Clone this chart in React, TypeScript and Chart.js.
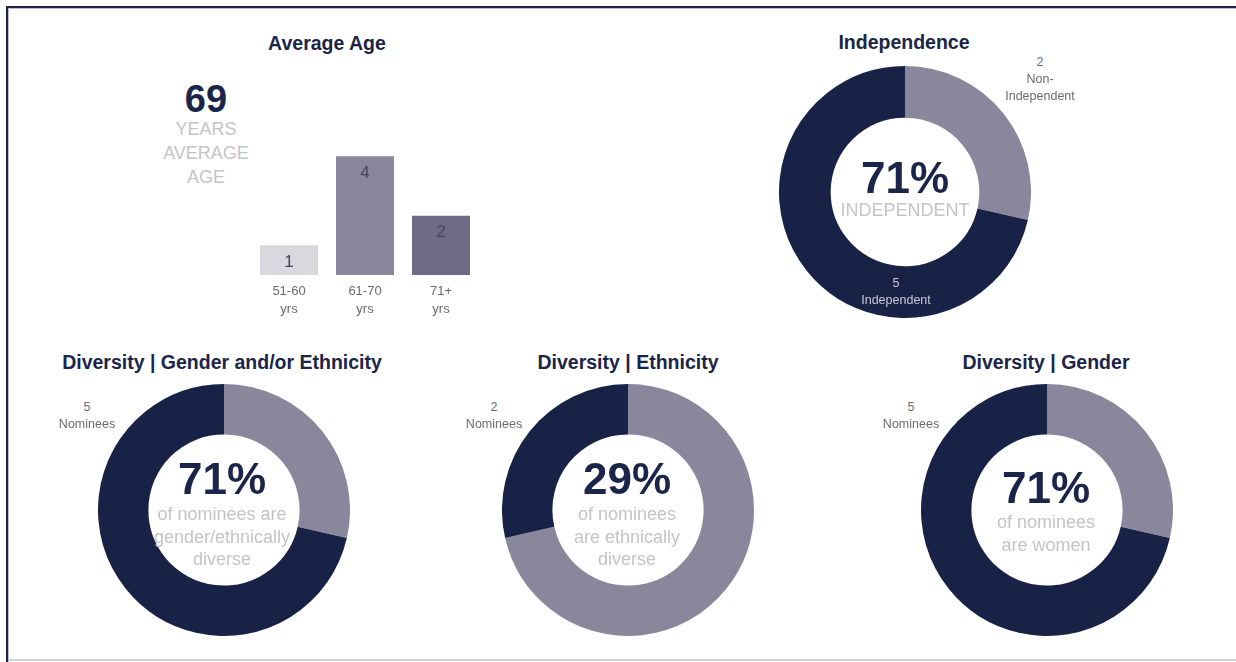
import React, { useEffect, useRef } from "react";
import { Chart, registerables } from "chart.js";

Chart.register(...registerables);

// ---------- data ----------
const ageCategories = ["51-60", "61-70", "71+"];
const ageUnit = "yrs";
const ageCounts = [1, 4, 2];
const averageAge = 69;

const independenceLabels = ["Non-Independent", "Independent"];
const independenceCounts = [2, 5];

const genderEthnicityLabels = ["Not diverse", "Gender/ethnically diverse"];
const genderEthnicityCounts = [2, 5];

const ethnicityLabels = ["Not ethnically diverse", "Ethnically diverse"];
const ethnicityCounts = [5, 2];

const genderLabels = ["Men", "Women"];
const genderCounts = [2, 5];

// ---------- styles ----------
const FONT = '"Liberation Sans", Arial, Helvetica, sans-serif';
const NAVY = "#172246";
const GRAY = "#8a879d";
const TITLE = "#1b2449";
const LIGHT_TEXT = "#c4c4c8";
const SMALL_TEXT = "#6a6a72";
const BAR_COLORS = ["#d9d8df", "#8a879d", "#6f6b86"];

const pct = (part: number, arr: number[]) =>
  Math.round((part / arr.reduce((a, b) => a + b, 0)) * 100);

function Txt(props: {
  x: number;
  y: number;
  size: number;
  color: string;
  bold?: boolean;
  children: React.ReactNode;
}) {
  return (
    <div
      style={{
        position: "absolute",
        left: props.x,
        top: props.y,
        transform: "translate(-50%, -50%)",
        fontFamily: FONT,
        fontSize: props.size,
        fontWeight: props.bold ? 700 : 400,
        color: props.color,
        whiteSpace: "nowrap",
        lineHeight: 1,
        textAlign: "center",
      }}
    >
      {props.children}
    </div>
  );
}

const barLabelPlugin = {
  id: "barLabels",
  afterDatasetsDraw(chart: any) {
    const ctx = chart.ctx;
    const meta = chart.getDatasetMeta(0);
    const area = chart.chartArea;
    ctx.save();
    ctx.textAlign = "center";
    ctx.textBaseline = "middle";
    meta.data.forEach((bar: any, i: number) => {
      ctx.font = `17px ${FONT}`;
      ctx.fillStyle = "#44465f";
      ctx.fillText(String(ageCounts[i]), bar.x, bar.y + 17);
      ctx.font = `13px ${FONT}`;
      ctx.fillStyle = SMALL_TEXT;
      ctx.fillText(ageCategories[i], bar.x, area.bottom + 16);
      ctx.fillText(ageUnit, bar.x, area.bottom + 34);
    });
    ctx.restore();
  },
};

function AgeBars() {
  const ref = useRef<HTMLCanvasElement>(null);
  useEffect(() => {
    const chart = new Chart(ref.current!, {
      type: "bar",
      data: {
        labels: ageCategories,
        datasets: [
          {
            data: ageCounts,
            backgroundColor: BAR_COLORS,
            borderWidth: 0,
            barPercentage: 0.763,
            categoryPercentage: 1,
          },
        ],
      },
      options: {
        animation: false,
        responsive: false,
        maintainAspectRatio: false,
        layout: { padding: { top: 0, bottom: 52, left: 0, right: 0 } },
        plugins: { legend: { display: false }, tooltip: { enabled: false } },
        scales: {
          x: { display: false },
          y: { display: false, min: 0, max: 6 },
        },
      },
      plugins: [barLabelPlugin],
    } as any);
    return () => chart.destroy();
  }, []);
  return (
    <canvas
      ref={ref}
      width={228}
      height={230}
      style={{ position: "absolute", left: 251, top: 97, width: 228, height: 230 }}
    />
  );
}

function Donut(props: {
  labels: string[];
  counts: number[];
  colors: string[];
  cx: number;
  cy: number;
  r: number;
  cutout: string;
}) {
  const ref = useRef<HTMLCanvasElement>(null);
  useEffect(() => {
    const chart = new Chart(ref.current!, {
      type: "doughnut",
      data: {
        labels: props.labels,
        datasets: [
          {
            data: props.counts,
            backgroundColor: props.colors,
            borderWidth: 0,
            hoverOffset: 0,
          },
        ],
      },
      options: {
        animation: false,
        responsive: false,
        maintainAspectRatio: false,
        cutout: props.cutout,
        layout: { padding: 0 },
        plugins: { legend: { display: false }, tooltip: { enabled: false } },
      },
    } as any);
    return () => chart.destroy();
  }, []);
  const size = props.r * 2;
  return (
    <canvas
      ref={ref}
      width={size}
      height={size}
      style={{
        position: "absolute",
        left: props.cx - props.r,
        top: props.cy - props.r,
        width: size,
        height: size,
      }}
    />
  );
}

export default function App() {
  return (
    <div
      style={{
        position: "fixed",
        left: 0,
        top: 0,
        width: 1236,
        height: 662,
        background: "#ffffff",
        overflow: "hidden",
      }}
    >
      {/* frame */}
      <div style={{ position: "absolute", left: 6, top: 6, width: 1230, height: 2, background: "#1d2448" }} />
      <div style={{ position: "absolute", left: 8, top: 8, width: 1228, height: 1, background: "#b9bbd0" }} />
      <div style={{ position: "absolute", left: 6, top: 6, width: 2, height: 656, background: "#1d2448" }} />
      <div style={{ position: "absolute", left: 8, top: 8, width: 1, height: 654, background: "#b9bbd0" }} />
      <div style={{ position: "absolute", left: 9, top: 659, width: 1227, height: 2, background: "#d3d3d6" }} />

      {/* Average Age */}
      <Txt x={327} y={44} size={19.5} color={TITLE} bold>Average Age</Txt>
      <Txt x={206} y={99} size={38} color={TITLE} bold>{averageAge}</Txt>
      <Txt x={206} y={129} size={18} color={LIGHT_TEXT}>YEARS</Txt>
      <Txt x={206} y={153} size={18} color={LIGHT_TEXT}>AVERAGE</Txt>
      <Txt x={206} y={177} size={18} color={LIGHT_TEXT}>AGE</Txt>
      <AgeBars />

      {/* Independence */}
      <Txt x={904} y={43} size={19.5} color={TITLE} bold>Independence</Txt>
      <Donut
        labels={independenceLabels}
        counts={independenceCounts}
        colors={[GRAY, NAVY]}
        cx={905}
        cy={192}
        r={126}
        cutout="59%"
      />
      <Txt x={905} y={178} size={44} color={TITLE} bold>{pct(independenceCounts[1], independenceCounts)}%</Txt>
      <Txt x={905} y={210} size={18} color={LIGHT_TEXT}>INDEPENDENT</Txt>
      <Txt x={1040} y={62} size={12.5} color={SMALL_TEXT}>{independenceCounts[0]}</Txt>
      <Txt x={1040} y={79} size={12.5} color={SMALL_TEXT}>Non-</Txt>
      <Txt x={1040} y={96} size={12.5} color={SMALL_TEXT}>{independenceLabels[0].replace("Non-", "")}</Txt>
      <Txt x={896} y={283} size={12.5} color="#c9cad6">{independenceCounts[1]}</Txt>
      <Txt x={896} y={300} size={12.5} color="#c9cad6">{independenceLabels[1]}</Txt>

      {/* Diversity | Gender and/or Ethnicity */}
      <Txt x={222} y={363} size={19.5} color={TITLE} bold>Diversity | Gender and/or Ethnicity</Txt>
      <Donut
        labels={genderEthnicityLabels}
        counts={genderEthnicityCounts}
        colors={[GRAY, NAVY]}
        cx={224}
        cy={510}
        r={126}
        cutout="60%"
      />
      <Txt x={87} y={407} size={12.5} color={SMALL_TEXT}>{genderEthnicityCounts[1]}</Txt>
      <Txt x={87} y={424} size={12.5} color={SMALL_TEXT}>Nominees</Txt>
      <Txt x={222} y={479} size={44} color={TITLE} bold>{pct(genderEthnicityCounts[1], genderEthnicityCounts)}%</Txt>
      <Txt x={222} y={514} size={18} color={LIGHT_TEXT}>of nominees are</Txt>
      <Txt x={222} y={537} size={18} color={LIGHT_TEXT}>gender/ethnically</Txt>
      <Txt x={222} y={559} size={18} color={LIGHT_TEXT}>diverse</Txt>

      {/* Diversity | Ethnicity */}
      <Txt x={628} y={363} size={19.5} color={TITLE} bold>Diversity | Ethnicity</Txt>
      <Donut
        labels={ethnicityLabels}
        counts={ethnicityCounts}
        colors={[GRAY, NAVY]}
        cx={628}
        cy={510}
        r={126}
        cutout="60%"
      />
      <Txt x={494} y={407} size={12.5} color={SMALL_TEXT}>{ethnicityCounts[1]}</Txt>
      <Txt x={494} y={424} size={12.5} color={SMALL_TEXT}>Nominees</Txt>
      <Txt x={627} y={479} size={44} color={TITLE} bold>{pct(ethnicityCounts[1], ethnicityCounts)}%</Txt>
      <Txt x={627} y={514} size={18} color={LIGHT_TEXT}>of nominees</Txt>
      <Txt x={627} y={537} size={18} color={LIGHT_TEXT}>are ethnically</Txt>
      <Txt x={627} y={559} size={18} color={LIGHT_TEXT}>diverse</Txt>

      {/* Diversity | Gender */}
      <Txt x={1046} y={363} size={19.5} color={TITLE} bold>Diversity | Gender</Txt>
      <Donut
        labels={genderLabels}
        counts={genderCounts}
        colors={[GRAY, NAVY]}
        cx={1047}
        cy={510}
        r={126}
        cutout="60%"
      />
      <Txt x={911} y={407} size={12.5} color={SMALL_TEXT}>{genderCounts[1]}</Txt>
      <Txt x={911} y={424} size={12.5} color={SMALL_TEXT}>Nominees</Txt>
      <Txt x={1046} y={488} size={44} color={TITLE} bold>{pct(genderCounts[1], genderCounts)}%</Txt>
      <Txt x={1046} y={522} size={18} color={LIGHT_TEXT}>of nominees</Txt>
      <Txt x={1046} y={545} size={18} color={LIGHT_TEXT}>are women</Txt>
    </div>
  );
}
